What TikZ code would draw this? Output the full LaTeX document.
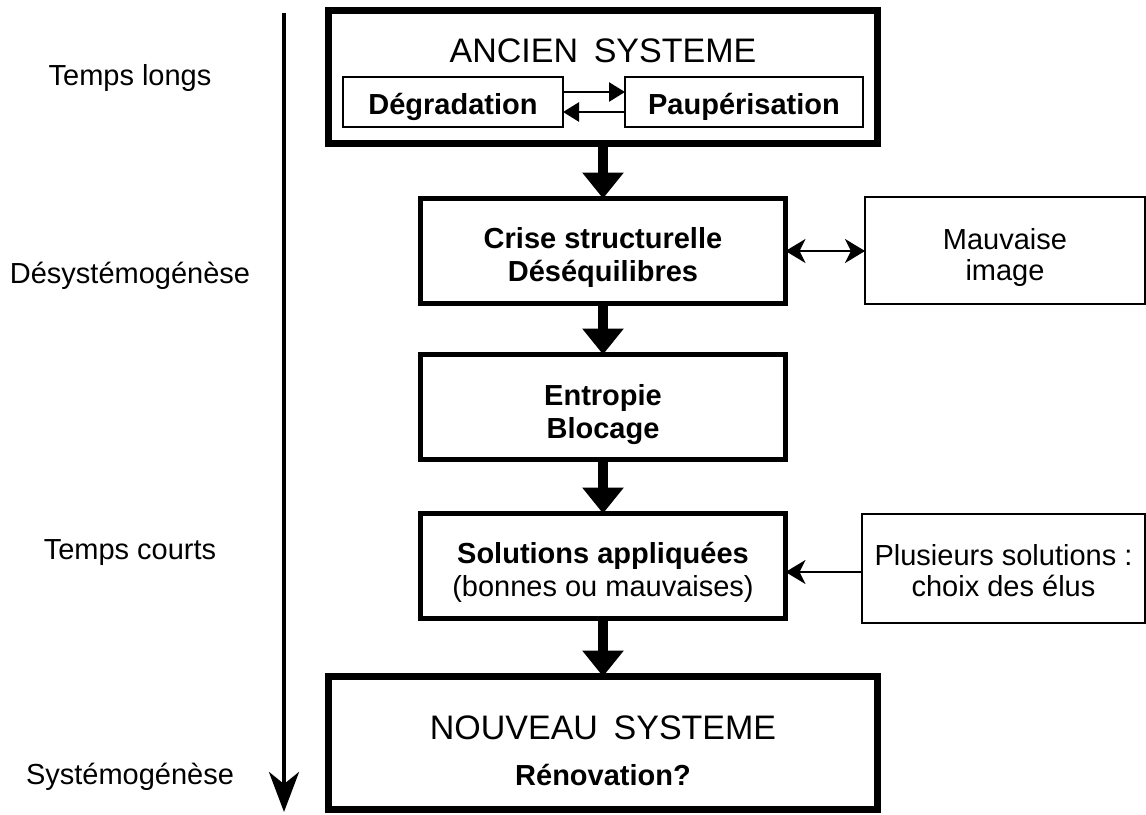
\documentclass[tikz,border=0pt]{standalone}
\usepackage{fontspec}
\setmainfont{Liberation Sans}
\usetikzlibrary{arrows.meta}
\newcommand\txtreg{\fontsize{29}{31}\selectfont}
\newcommand\txtbold{\fontsize{29}{33}\selectfont\bfseries}
\newcommand\txttitle{\fontsize{34}{40}\selectfont}

\begin{document}
\begin{tikzpicture}[x=1pt,y=-1pt,
  every node/.style={inner sep=0pt, outer sep=0pt},
  heavybox/.style={draw, line width=6.5pt, minimum width=549pt, minimum height=133pt},
  mainbox/.style={draw, line width=4.5pt, minimum width=365pt, minimum height=105pt,
    align=center, font=\txtbold, text depth=0pt},
  sidebox/.style={draw, line width=2.5pt, minimum width=280pt, minimum height=107pt,
    align=center, font=\txtreg, text depth=0pt},
  innerbox/.style={draw, line width=2.5pt, minimum height=50pt, font=\txtbold,
    text height=24pt, text depth=0pt},
  sidelabel/.style={anchor=base, font=\txtreg},
  flow/.style={line width=10pt, -{Triangle[width=40pt,length=26pt]}},
  swap/.style={line width=2.5pt, -{Triangle[width=19pt,length=16pt]}},
  link/.style={line width=2.5pt, -{Stealth[width=24pt,length=20pt,inset=6pt]}},
  biway/.style={line width=2.5pt,
    {Stealth[width=24pt,length=20pt,inset=6pt]}-{Stealth[width=24pt,length=20pt,inset=6pt]}},
  timeline/.style={line width=4pt, -{Stealth[width=30pt,length=40pt,inset=12pt]}},
]
\fill[white] (0,0) rectangle (1146,814);
\useasboundingbox (0,0) rectangle (1146,814);

% time axis and its labels
\coordinate (time-start) at (284,13);
\coordinate (time-end) at (284,812);
\draw[timeline] (time-start) -- (time-end);
\node[sidelabel] (lbl-longs) at (130,85) {Temps longs};
\node[sidelabel] (lbl-desys) at (130,283) {Désystémogénèse};
\node[sidelabel] (lbl-courts) at (130,559) {Temps courts};
\node[sidelabel] (lbl-sys) at (130,784) {Systémogénèse};

% old system
\node[heavybox] (ancien) at (603,77) {};
\node[anchor=base, font=\txttitle] (ancien-title) at (603,62) {ANCIEN\hspace{0.46em}SYSTEME};
\node[innerbox, minimum width=220pt] (degr) at (453,102) {Dégradation};
\node[innerbox, minimum width=238pt] (paup) at (744,102) {Paupérisation};
\draw[swap] ([yshift=10pt]degr.east) -- ([yshift=10pt]paup.west);
\draw[swap] ([yshift=-10pt]paup.west) -- ([yshift=-10pt]degr.east);

% main chain (text height sets where the last baseline sits in each box)
\node[mainbox, text height=60pt] (crise) at (603,251) {Crise structurelle\\Déséquilibres};
\node[mainbox, text height=62pt] (entropie) at (603,407) {Entropie\\Blocage};
\node[mainbox, text height=60pt] (solutions) at (603,566)
  {Solutions appliquées\\{\mdseries(bonnes ou mauvaises)}};

% side boxes
\node[sidebox, text height=59pt] (mauvaise) at (1005,250.5) {Mauvaise\\image};
\node[sidebox, minimum width=283pt, minimum height=109pt, text height=55pt] (plusieurs)
  at (1003.5,568.5) {Plusieurs solutions :\\choix des élus};

% new system
\node[heavybox] (nouveau) at (603,743) {};
\node[anchor=base, font=\txttitle] (nouveau-title) at (603,739) {NOUVEAU\hspace{0.46em}SYSTEME};
\node[anchor=base, font=\txtbold] (renovation) at (603,785) {Rénovation?};

% connectors
\draw[flow] (ancien.south) -- (crise.north);
\draw[flow] (crise.south) -- (entropie.north);
\draw[flow] (entropie.south) -- (solutions.north);
\draw[flow] (solutions.south) -- (nouveau.north);
\draw[biway] (crise.east) -- (crise.east -| mauvaise.west);
\draw[link] ([yshift=-3.5pt]plusieurs.west) -- ([yshift=-3.5pt]plusieurs.west -| solutions.east);
\end{tikzpicture}
\end{document}
